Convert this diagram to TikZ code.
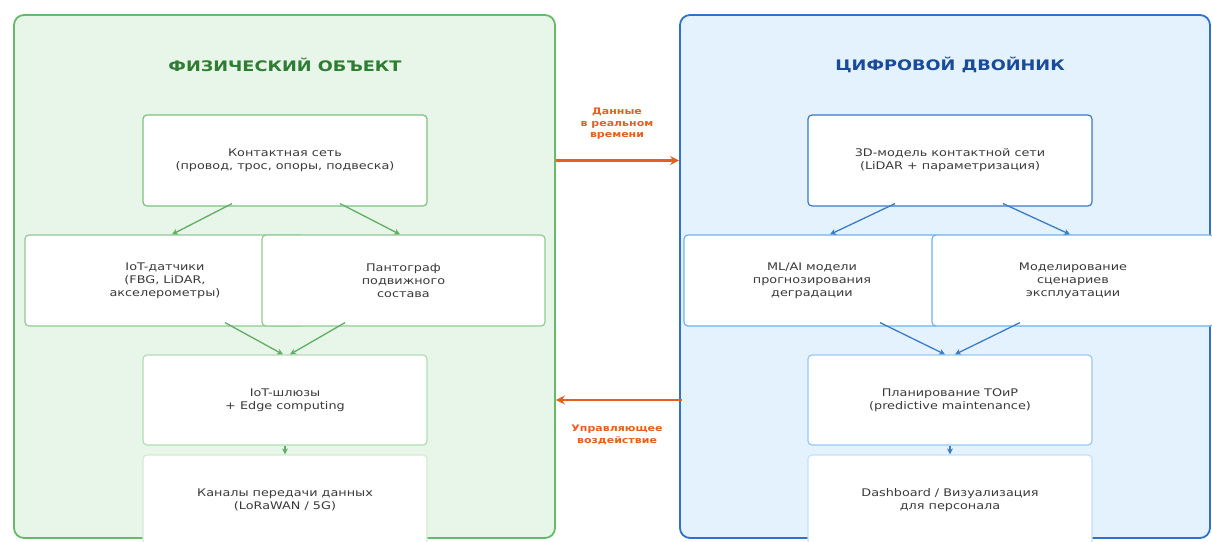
\documentclass[tikz,border=0pt]{standalone}
\usepackage{fontspec}
\setmainfont{DejaVu Sans}[FakeStretch=1.22]
\usetikzlibrary{calc,arrows.meta}
\definecolor{gfill}{HTML}{E8F5E9}
\definecolor{gedge}{HTML}{66BB6A}
\definecolor{gtitle}{HTML}{2E7D32}
\definecolor{garrow}{HTML}{5FAE63}
\definecolor{gb1}{HTML}{7CC17F}
\definecolor{gb2}{HTML}{8FCB92}
\definecolor{gb3}{HTML}{B2DDB4}
\definecolor{gb4}{HTML}{D2ECD3}
\definecolor{bfill}{HTML}{E3F2FD}
\definecolor{bedge}{HTML}{2F72C8}
\definecolor{btitle}{HTML}{1A4A9A}
\definecolor{barrow}{HTML}{3C7CC6}
\definecolor{bb1}{HTML}{3A78C4}
\definecolor{bb2}{HTML}{6FB2EE}
\definecolor{bb3}{HTML}{98C9F3}
\definecolor{bb4}{HTML}{C2E0F8}
\definecolor{orng}{HTML}{E4601C}
\definecolor{txt}{HTML}{3A3A3A}
\tikzset{
  panel/.style={rounded corners=10pt, line width=1.8pt, inner sep=0pt},
  box/.style={draw, fill=white, rounded corners=4pt, line width=1.2pt, align=center,
    text=txt, font=\fontsize{10.5}{13}\selectfont, inner sep=0pt},
  ttl/.style={font=\fontsize{14.5}{18}\selectfont\bfseries},
  garr/.style={draw=garrow, line width=1.3pt, -{Stealth[length=6pt,width=6pt]}},
  barr/.style={draw=barrow, line width=1.3pt, -{Stealth[length=6pt,width=6pt]}},
  oarr/.style={draw=orng, line width=2.6pt, -{Stealth[length=9pt,width=9pt]}},
  olab/.style={text=orng, align=center, font=\fontsize{9}{11.5}\selectfont\bfseries},
}
\begin{document}
\begin{tikzpicture}[x=1pt,y=1pt]
\useasboundingbox (0,0) rectangle (1212,-541);
\clip (0,0) rectangle (1212,-541);
\fill[white] (0,0) rectangle (1212,-541);
% panels
\node[panel, draw=gedge, fill=gfill, minimum width=541pt, minimum height=523pt] (LP) at (284.5,-276.5) {};
\node[panel, draw=bedge, fill=bfill, minimum width=530pt, minimum height=523pt] (RP) at (945,-276.5) {};
% titles
\node[ttl, text=gtitle] (LT) at (285,-65) {ФИЗИЧЕСКИЙ ОБЪЕКТ};
\node[ttl, text=btitle] (RT) at (950,-65) {ЦИФРОВОЙ ДВОЙНИК};
% left boxes
\node[box, draw=gb1, minimum width=284pt, minimum height=91pt] (L1) at (285,-160.5) {Контактная сеть\\(провод, трос, опоры, подвеска)};
\node[box, draw=gb2, minimum width=280pt, minimum height=91pt] (L2a) at (165,-280.5) {IoT-датчики\\(FBG, LiDAR,\\акселерометры)};
\node[box, draw=gb2, minimum width=283pt, minimum height=91pt] (L2b) at (403.5,-280.5) {Пантограф\\подвижного\\состава};
\node[box, draw=gb3, minimum width=284pt, minimum height=90pt] (L3) at (285,-400) {IoT-шлюзы\\+ Edge computing};
\node[box, draw=gb4, minimum width=284pt, minimum height=90pt] (L4) at (285,-500) {Каналы передачи данных\\(LoRaWAN / 5G)};
% right boxes
\node[box, draw=bb1, minimum width=284pt, minimum height=91pt] (R1) at (950,-160.5) {3D-модель контактной сети\\(LiDAR + параметризация)};
\node[box, draw=bb2, minimum width=256pt, minimum height=91pt] (R2a) at (812,-280.5) {ML/AI модели\\прогнозирования\\деградации};
\node[box, draw=bb2, minimum width=282pt, minimum height=91pt] (R2b) at (1073,-280.5) {Моделирование\\сценариев\\эксплуатации};
\node[box, draw=bb3, minimum width=284pt, minimum height=90pt] (R3) at (950,-400) {Планирование ТОиР\\(predictive maintenance)};
\node[box, draw=bb4, minimum width=284pt, minimum height=90pt] (R4) at (950,-500) {Dashboard / Визуализация\\для персонала};
% left arrows
\draw[garr] ([xshift=-53pt,yshift=3pt]L1.south) -- ([xshift=7pt]L2a.north);
\draw[garr] ([xshift=55pt,yshift=3pt]L1.south) -- ([xshift=-3.5pt]L2b.north);
\draw[garr] ([xshift=60pt,yshift=4pt]L2a.south) -- ([xshift=-2pt]L3.north);
\draw[garr] ([xshift=-58.5pt,yshift=4pt]L2b.south) -- ([xshift=5pt]L3.north);
\draw[garr] (L3.south) -- (L4.north);
% right arrows
\draw[barr] ([xshift=-55pt,yshift=3pt]R1.south) -- ([xshift=18pt]R2a.north);
\draw[barr] ([xshift=53pt,yshift=3pt]R1.south) -- ([xshift=-3pt]R2b.north);
\draw[barr] ([xshift=68pt,yshift=4pt]R2a.south) -- ([xshift=-5pt]R3.north);
\draw[barr] ([xshift=-53pt,yshift=4pt]R2b.south) -- ([xshift=5pt]R3.north);
\draw[barr] (R3.south) -- (R4.north);
% orange arrows
\draw[oarr] (LP.east |- L1) -- (RP.west |- R1);
\draw[oarr] ([xshift=3pt]RP.west |- R3) -- (LP.east |- L3);
\node[olab] (OL1) at (617,-124) {Данные\\в реальном\\времени};
\node[olab] (OL2) at (617,-435) {Управляющее\\воздействие};
\end{tikzpicture}
\end{document}
